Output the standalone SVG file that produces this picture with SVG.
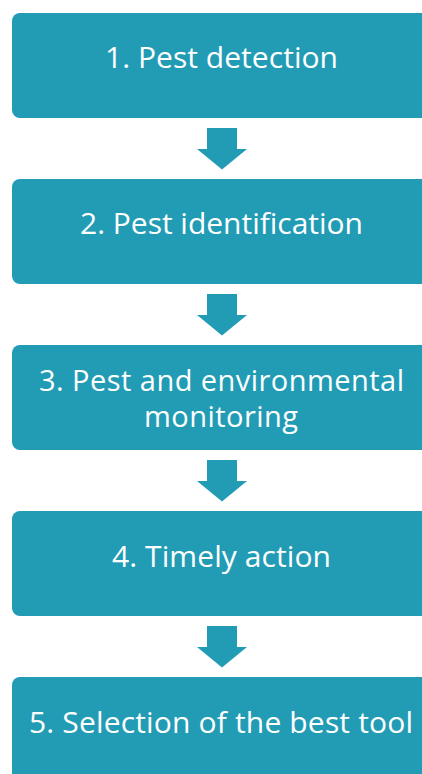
<svg xmlns="http://www.w3.org/2000/svg" width="422" height="774" viewBox="0 0 422 774">
<style>
.box{fill:#229cb5}
.lbl{font-family:"Open Sans","Noto Sans","Liberation Sans",sans-serif;font-size:30px;fill:#ffffff;text-anchor:middle;font-variant-ligatures:none}
.sm{font-size:29px}
.arr{fill:#229cb5}
</style>
<defs>
<polygon id="down" points="207,128 237,128 237,149 247,149 222,169.5 197,149 207,149 207,128"/>
</defs>
<rect width="422" height="774" fill="#ffffff"/>
<g id="node1"><rect class="box" x="12" y="13" width="420" height="105" rx="8"/><text class="lbl" x="221.5" y="68" textLength="233" lengthAdjust="spacing">1. Pest detection</text></g>
<g id="node2"><rect class="box" x="12" y="179" width="420" height="105" rx="8"/><text class="lbl" x="221.5" y="234" textLength="283" lengthAdjust="spacing">2. Pest identification</text></g>
<g id="node3"><rect class="box" x="12" y="345" width="420" height="105" rx="8"/><text class="lbl sm"><tspan x="221.5" y="391" textLength="365" lengthAdjust="spacing">3. Pest and environmental</tspan><tspan x="221" y="427" textLength="154" lengthAdjust="spacing">monitoring</tspan></text></g>
<g id="node4"><rect class="box" x="12" y="511" width="420" height="105" rx="8"/><text class="lbl" x="221.5" y="566.5" textLength="219" lengthAdjust="spacing">4. Timely action</text></g>
<g id="node5"><rect class="box" x="12" y="677" width="420" height="110" rx="8"/><text class="lbl" x="221" y="732.5" textLength="384" lengthAdjust="spacing">5. Selection of the best tool</text></g>
<g id="connectors">
<use href="#down" class="arr"/>
<use href="#down" class="arr" y="166"/>
<use href="#down" class="arr" y="332"/>
<use href="#down" class="arr" y="498"/>
</g>
</svg>
